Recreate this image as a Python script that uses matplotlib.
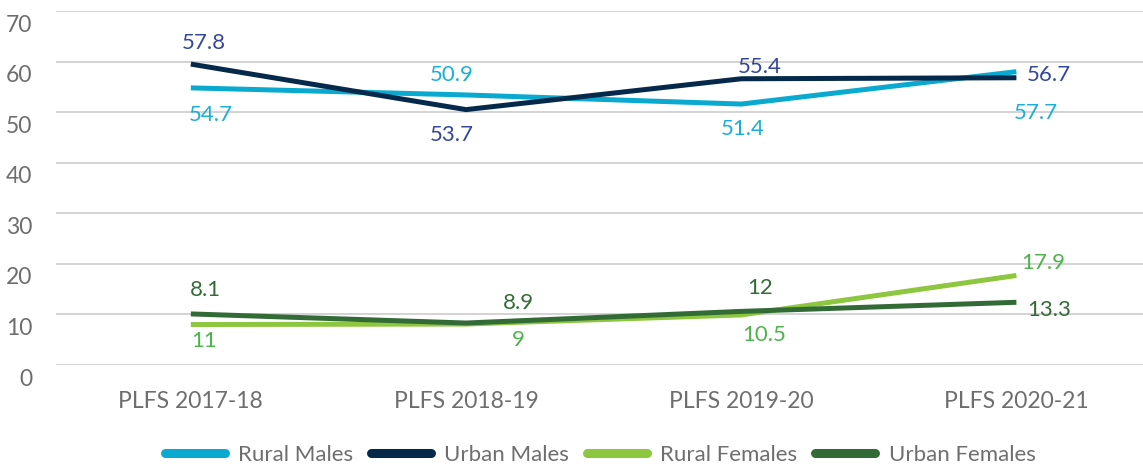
import matplotlib.pyplot as plt
import matplotlib.transforms as mtransforms

# categories and values (line positions, label texts as printed)
years = ['PLFS 2017-18', 'PLFS 2018-19', 'PLFS 2019-20', 'PLFS 2020-21']

rural_males = [54.8, 53.4, 51.6, 58.0]
urban_males = [59.5, 50.5, 56.6, 56.8]
rural_females = [8.0, 8.1, 9.9, 17.7]
urban_females = [10.1, 8.3, 10.6, 12.4]

rural_males_labels = ['54.7', '50.9', '51.4', '57.7']
urban_males_labels = ['57.8', '53.7', '55.4', '56.7']
rural_females_labels = ['11', '9', '10.5', '17.9']
urban_females_labels = ['8.1', '8.9', '12', '13.3']

# label offsets in pixels from each point
rural_males_off = [(20, -27), (-14, 20), (2, -25), (19, -41)]
urban_males_off = [(13, 21), (-14, -25), (19, 12), (32, 3)]
rural_females_off = [(13, -16), (52, -16), (23, -20), (27, 12)]
urban_females_off = [(15, 24), (52, 20), (19, 23), (33, -8)]

plt.rcParams['font.family'] = ['Lato', 'DejaVu Sans']

series = [
    ('Rural Males', rural_males, rural_males_labels, rural_males_off, '#0aa9cf', '#1ab0d5'),
    ('Urban Males', urban_males, urban_males_labels, urban_males_off, '#04294a', '#34479a'),
    ('Rural Females', rural_females, rural_females_labels, rural_females_off, '#8dc63f', '#4cb44a'),
    ('Urban Females', urban_females, urban_females_labels, urban_females_off, '#336b36', '#336b36'),
]

fig = plt.figure(figsize=(11.43, 4.70), dpi=100)
ax = fig.add_axes([56 / 1143, 1 - 365 / 470, 1 - 56 / 1143, 354 / 470])

x = list(range(len(years)))
handles = []
for name, vals, labels, offs, col, lcol in series:
    ax.plot(x, vals, color=col, lw=3.6, solid_capstyle='butt', zorder=3)
    handles.append(plt.Line2D([], [], color=col, lw=6.5, solid_capstyle='round'))
    for xi, v, lab, (dx, dy) in zip(x, vals, labels, offs):
        ax.annotate(lab, (xi, v), xytext=(dx, dy), textcoords='offset pixels',
                    ha='center', va='center', color=lcol, fontsize=16, zorder=4)

ax.set_xlim(-0.49, 3.46)
ax.set_ylim(0, 70)
ax.set_yticks(range(0, 71, 10))
ax.set_xticks(x)
ax.set_xticklabels(years)
ax.grid(axis='y', color='#d0d0d0', lw=1.3, zorder=0)
for s in ax.spines.values():
    s.set_visible(False)
ax.tick_params(axis='both', length=0, labelcolor='#6e6e6e', labelsize=16.5)
ax.tick_params(axis='y', pad=17)
ax.tick_params(axis='x', pad=19)

# y tick labels sit a bit below their grid lines in the reference
shift = mtransforms.ScaledTranslation(0, -12 / 100, fig.dpi_scale_trans)
for lab in ax.get_yticklabels():
    lab.set_transform(lab.get_transform() + shift)

fig.legend(handles, [s[0] for s in series], loc='center', bbox_to_anchor=(0.525, 0.032),
           ncol=4, frameon=False, fontsize=16, labelcolor='#6e6e6e',
           handlelength=2.7, handletextpad=0.6, columnspacing=0.8)

fig.savefig('out.png', dpi=100)
